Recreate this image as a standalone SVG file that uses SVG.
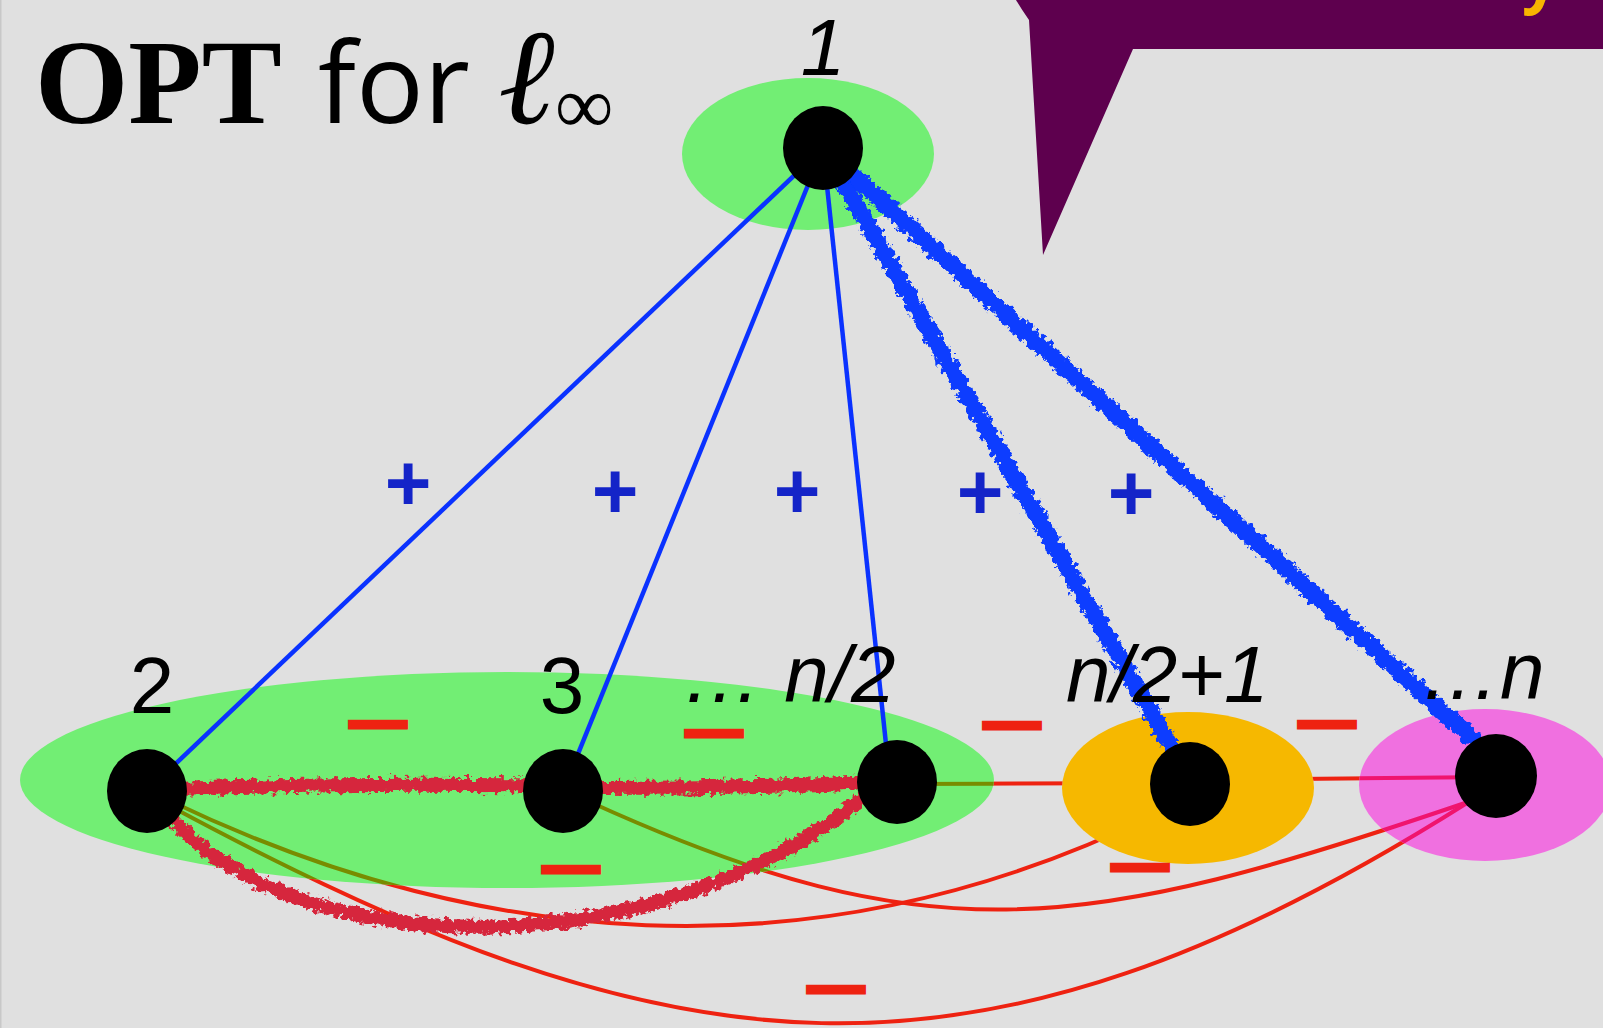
<svg xmlns="http://www.w3.org/2000/svg" width="1603" height="1028" viewBox="0 0 1603 1028">
<style>
.lbl{font-family:"Liberation Sans",Arial,sans-serif;font-size:80px;fill:#000}
.it{font-style:italic}
.plus{font-family:"Liberation Sans",Arial,sans-serif;font-weight:bold;font-size:80px;fill:#1424c8;text-anchor:middle}
.minus{font-family:"Liberation Sans",Arial,sans-serif;font-weight:bold;font-size:28px;fill:#ee2211;stroke:#ee2211;stroke-width:7;stroke-linejoin:miter}
.dot{fill:#000}
.thinred{fill:none;stroke-width:4}
.blue{fill:none;stroke:#0a32ff;stroke-width:4.5}
.rough-red{fill:none;stroke:#d6283c;stroke-width:14;stroke-linecap:round;filter:url(#rough)}
.rough-blue{fill:none;stroke:#0a3cff;stroke-width:17;stroke-linecap:round;filter:url(#rough)}
.green{fill:#72ee74}
</style>
<defs>
<filter id="rough" filterUnits="userSpaceOnUse" x="0" y="0" width="1603" height="1028">
<feTurbulence type="fractalNoise" baseFrequency="0.18" numOctaves="3" seed="4" result="n"/>
<feDisplacementMap in="SourceGraphic" in2="n" scale="12" xChannelSelector="R" yChannelSelector="G"/>
</filter>
<path id="eA" d="M170,806 C673,1077 972,1115 1467,803"/>
<path id="eB" d="M168,800 C470,945 810,985 1160,812"/>
<path id="eC" d="M590,802 C933,958 1086,932 1465,803"/>
<path id="eD" d="M897,784 L1190,783"/>
<path id="eE" d="M1190,780 L1496,777"/>
<mask id="mOut" maskUnits="userSpaceOnUse" x="0" y="0" width="1603" height="1028">
<rect width="1603" height="1028" fill="#fff"/>
<ellipse cx="507" cy="780" rx="487" ry="108" fill="#000"/>
<ellipse cx="1188" cy="788" rx="126" ry="76" fill="#000"/>
<ellipse cx="1485" cy="785" rx="126" ry="76" fill="#000"/>
</mask>
<clipPath id="cGreen"><ellipse cx="507" cy="780" rx="487" ry="108"/></clipPath>
<clipPath id="cPink"><ellipse cx="1485" cy="785" rx="126" ry="76"/></clipPath>
</defs>
<rect width="1603" height="1028" fill="#e0e0e0"/>
<rect x="0" y="0" width="1.5" height="1028" fill="#c8c8c8"/>

<g id="callout">
<path d="M1012,-5 L1603,-5 L1603,49 L1133,49 L1043,255 L1029,20 Q1022,10 1016,0 Z" fill="#5e004e"/>
<text x="1522" y="0" font-family="'Open Sans','Liberation Sans',sans-serif" font-weight="bold" font-size="64" fill="#f7b500">y</text>
</g>

<g id="title">
<text x="35" y="123" font-family="'Liberation Serif','Times New Roman',serif" font-weight="bold" font-size="120" fill="#000">OPT</text>
<text x="318" y="123" font-family="'Open Sans','Liberation Sans',sans-serif" font-weight="500" font-size="112" textLength="152" lengthAdjust="spacingAndGlyphs" fill="#000">for</text>
<text x="498" y="123" font-family="'Liberation Serif','Times New Roman',serif" font-style="italic" font-size="136" fill="#000">ℓ</text>
<text x="555" y="133" font-family="'Liberation Serif','Times New Roman',serif" font-size="82" fill="#000">∞</text>
</g>

<g id="clusters">
<ellipse id="cluster-1" class="green" cx="808" cy="154" rx="126" ry="76"/>
<ellipse id="cluster-low" class="green" cx="507" cy="780" rx="487" ry="108"/>
<ellipse id="cluster-n2p1" cx="1188" cy="788" rx="126" ry="76" fill="#f6b800"/>
<ellipse id="cluster-n" cx="1485" cy="785" rx="126" ry="76" fill="#f070e0"/>
</g>

<g id="connectors">
<g mask="url(#mOut)" class="thinred" stroke="#ee2211">
<use href="#eA"/><use href="#eB"/><use href="#eC"/><use href="#eD"/><use href="#eE"/>
</g>
<g clip-path="url(#cGreen)" class="thinred" stroke="#788c00">
<use href="#eA"/><use href="#eB"/><use href="#eC"/><use href="#eD"/>
</g>
<g clip-path="url(#cPink)" class="thinred" stroke="#f0146e">
<use href="#eA"/><use href="#eC"/><use href="#eE"/>
</g>
<line class="blue" x1="823" y1="148" x2="147" y2="791"/>
<line class="blue" x1="823" y1="148" x2="563" y2="791"/>
<line class="blue" x1="823" y1="148" x2="890" y2="782"/>
<path class="rough-red" d="M150,790 Q355,782 560,786"/>
<path class="rough-red" d="M566,788 Q730,789 894,781"/>
<path class="rough-red" d="M165,808 C270,954 640,984 870,792"/>
<path class="rough-blue" d="M823,148 L1180,762"/>
<path class="rough-blue" d="M823,148 L1496,760"/>
<g id="edge-signs">
<text class="plus" x="408" y="510">+</text>
<text class="plus" x="615" y="518">+</text>
<text class="plus" x="797" y="518">+</text>
<text class="plus" x="980" y="519">+</text>
<text class="plus" x="1131" y="520">+</text>
<text class="minus" x="354" y="732" textLength="48" lengthAdjust="spacingAndGlyphs">—</text>
<text class="minus" x="690" y="741" textLength="48" lengthAdjust="spacingAndGlyphs">—</text>
<text class="minus" x="988" y="733" textLength="48" lengthAdjust="spacingAndGlyphs">—</text>
<text class="minus" x="1303" y="732" textLength="48" lengthAdjust="spacingAndGlyphs">—</text>
<text class="minus" x="547" y="877" textLength="48" lengthAdjust="spacingAndGlyphs">—</text>
<text class="minus" x="1116" y="875" textLength="48" lengthAdjust="spacingAndGlyphs">—</text>
<text class="minus" x="812" y="997" textLength="48" lengthAdjust="spacingAndGlyphs">—</text>
</g>
</g>

<g id="node-1"><ellipse class="dot" cx="823" cy="148" rx="40" ry="42"/><text class="lbl it" x="823" y="75" text-anchor="middle">1</text></g>
<g id="node-2"><ellipse class="dot" cx="147" cy="791" rx="40" ry="42"/><text class="lbl" x="152" y="713" text-anchor="middle">2</text></g>
<g id="node-3"><ellipse class="dot" cx="563" cy="791" rx="40" ry="42"/><text class="lbl" x="562" y="713" text-anchor="middle">3</text></g>
<g id="node-n2"><ellipse class="dot" cx="897" cy="782" rx="40" ry="42"/><text class="lbl it" x="682" y="702">… n/2</text></g>
<g id="node-n2p1"><ellipse class="dot" cx="1190" cy="784" rx="40" ry="42"/><text class="lbl it" x="1066" y="702">n/2+1</text></g>
<g id="node-n"><ellipse class="dot" cx="1496" cy="776" rx="41" ry="42"/><text class="lbl it" x="1420" y="699">…n</text></g>
</svg>
